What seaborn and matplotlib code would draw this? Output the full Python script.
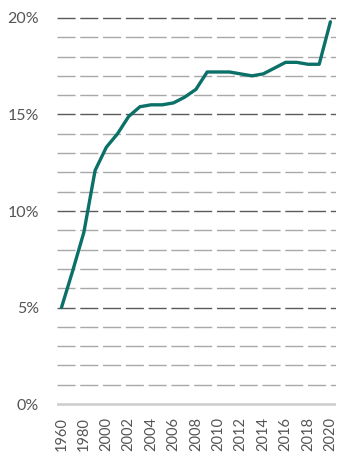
import numpy as np
import pandas as pd
import seaborn as sns
import matplotlib.pyplot as plt

# Share of value, one point per year (decades first, then yearly)
years = ['1960', '1970', '1980', '1990', '2000', '2001', '2002', '2003', '2004', '2005',
         '2006', '2007', '2008', '2009', '2010', '2011', '2012', '2013', '2014', '2015',
         '2016', '2017', '2018', '2019', '2020']
share = [5.0, 6.9, 8.9, 12.1, 13.3, 14.0, 14.9, 15.4, 15.5, 15.5,
         15.6, 15.9, 16.3, 17.2, 17.2, 17.2, 17.1, 17.0, 17.1, 17.4,
         17.7, 17.7, 17.6, 17.6, 19.8]
major_ticks = [0, 5, 10, 15, 20]
major_labels = ['0%', '5%', '10%', '15%', '20%']

df = pd.DataFrame({'idx': np.arange(len(years)), 'share': share})

sns.set_style('white')
plt.rcParams['font.family'] = ['Lato', 'DejaVu Sans']

fig = plt.figure(figsize=(3.53, 4.62), dpi=100)
ax = fig.add_axes([57 / 353, (462 - 406) / 462, (336 - 57) / 353, (406 - 16) / 462])

# gridlines drawn by hand so majors and minors get their own shades
dash = (0, (13, 3.4))
for v in range(1, 21):
    if v % 5 == 0:
        ax.axhline(v, color='#5a5a5a', lw=1.0, ls=dash, zorder=1)
    else:
        ax.axhline(v, color='#a8a8a8', lw=1.0, ls=dash, zorder=1)
ax.axhline(0, color='#d0d0d0', lw=2.0, zorder=1)

sns.lineplot(data=df, x='idx', y='share', color='#0b7168', lw=2.4, ax=ax, zorder=3)

ax.set_xlim(-0.4, 24.5)
ax.set_ylim(-0.1, 20.1)
ax.set_yticks(major_ticks)
ax.set_yticklabels(major_labels)
ax.set_xticks(df['idx'][::2])
ax.set_xticklabels(years[::2], rotation=90)
ax.tick_params(axis='y', length=0, pad=13, labelsize=11.5, labelcolor='#555555')
ax.tick_params(axis='x', length=0, pad=8, labelsize=10.5, labelcolor='#555555')
ax.set_xlabel('')
ax.set_ylabel('')
for s in ax.spines.values():
    s.set_visible(False)

fig.savefig('out.png', dpi=100)
